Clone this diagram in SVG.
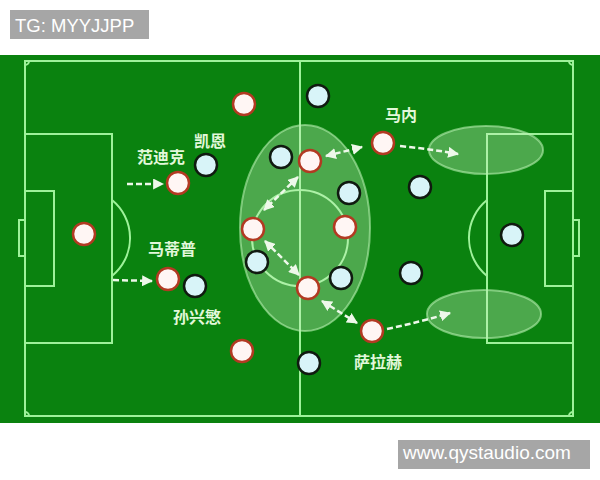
<svg xmlns="http://www.w3.org/2000/svg" width="600" height="480" viewBox="0 0 600 480">
<defs>
<style>
.ln{fill:none;stroke:#9ef29a;stroke-width:2}
.zone{fill:#c8f0c0;fill-opacity:0.35;stroke:#b8f0b0;stroke-opacity:0.6;stroke-width:2}
.red{fill:#fff6f4;stroke:#b23a22;stroke-width:2.5}
.blue{fill:#d8f4f8;stroke:#101a10;stroke-width:2.5}
.lbl{font-family:"Noto Sans CJK SC","Noto Sans CJK JP",sans-serif;font-size:16px;font-weight:bold;fill:#e2f8da}
.arr{fill:none;stroke:#eef8ea;stroke-width:2.5;stroke-dasharray:6 3}
.wm{font-family:"Liberation Sans",Arial,sans-serif;fill:#ffffff}
</style>
<marker id="ah" viewBox="0 0 10 10" refX="9" refY="5" markerWidth="11" markerHeight="11" markerUnits="userSpaceOnUse" orient="auto-start-reverse">
<path d="M0,0 L10,5 L0,10 Z" fill="#eef8ea"/>
</marker>
</defs>
<rect width="600" height="480" fill="#ffffff"/>
<g id="watermark-top">
<rect x="10" y="10" width="139" height="29" fill="#a6a6a6"/>
<text class="wm" x="15" y="32" font-size="18.5">TG: MYYJJPP</text>
</g>
<g id="pitch">
<rect x="0" y="55" width="600" height="368" fill="#0a820f"/>
<rect class="ln" x="25" y="61" width="548" height="355"/>
<line class="ln" x1="300" y1="61" x2="300" y2="416"/>
<circle class="ln" cx="300" cy="238" r="48" stroke-width="1.5"/>
<rect class="ln" x="25" y="134" width="87" height="209"/>
<rect class="ln" x="25" y="191" width="29" height="95"/>
<rect class="ln" x="19" y="220" width="6" height="36"/>
<path class="ln" d="M112,200 A49,49 0 0 1 112,276" stroke-width="1.5"/>
<rect class="ln" x="487" y="134" width="86" height="209"/>
<rect class="ln" x="545" y="191" width="28" height="95"/>
<rect class="ln" x="573" y="220" width="6" height="36"/>
<path class="ln" d="M487,200 A49,49 0 0 0 487,276" stroke-width="1.5"/>
<path class="ln" d="M25,65 A4,4 0 0 0 29,61 M569,61 A4,4 0 0 0 573,65 M25,412 A4,4 0 0 1 29,416 M569,416 A4,4 0 0 1 573,412" stroke-width="1.5"/>
</g>
<g id="zones">
<ellipse class="zone" cx="305" cy="228" rx="65" ry="103"/>
<ellipse class="zone" cx="486" cy="150" rx="57" ry="24"/>
<ellipse class="zone" cx="484" cy="314" rx="57" ry="24"/>
</g>
<g id="connectors">
<path class="arr" d="M127,184 L163,184" marker-end="url(#ah)"/>
<path class="arr" d="M113,280 L152,281" marker-end="url(#ah)"/>
<path class="arr" d="M400,146 Q430,149 458,154" marker-end="url(#ah)"/>
<path class="arr" d="M326,156 L362,147" marker-start="url(#ah)" marker-end="url(#ah)"/>
<path class="arr" d="M322,301 L357,323" marker-start="url(#ah)" marker-end="url(#ah)"/>
<path class="arr" d="M387,329 Q420,322 450,313" marker-end="url(#ah)"/>
<path class="arr" d="M298,177 L264,210" marker-start="url(#ah)" marker-end="url(#ah)"/>
<path class="arr" d="M265,241 L299,275" marker-start="url(#ah)" marker-end="url(#ah)"/>
</g>
<g id="red-team">
<circle id="r1" class="red" cx="244" cy="104" r="11"/>
<circle id="r2" class="red" cx="178" cy="183" r="11"/>
<circle id="r3" class="red" cx="84" cy="234" r="11"/>
<circle id="r4" class="red" cx="168" cy="279" r="11"/>
<circle id="r5" class="red" cx="242" cy="351" r="11"/>
<circle id="r6" class="red" cx="310" cy="161" r="11"/>
<circle id="r7" class="red" cx="253" cy="229" r="11"/>
<circle id="r8" class="red" cx="345" cy="227" r="11"/>
<circle id="r9" class="red" cx="308" cy="288" r="11"/>
<circle id="r10" class="red" cx="383" cy="143" r="11"/>
<circle id="r11" class="red" cx="372" cy="331" r="11"/>
</g>
<g id="blue-team">
<circle id="b1" class="blue" cx="206" cy="165" r="11"/>
<circle id="b2" class="blue" cx="195" cy="286" r="11"/>
<circle id="b3" class="blue" cx="281" cy="157" r="11"/>
<circle id="b4" class="blue" cx="318" cy="96" r="11"/>
<circle id="b5" class="blue" cx="349" cy="193" r="11"/>
<circle id="b6" class="blue" cx="420" cy="187" r="11"/>
<circle id="b7" class="blue" cx="257" cy="262" r="11"/>
<circle id="b8" class="blue" cx="341" cy="278" r="11"/>
<circle id="b9" class="blue" cx="411" cy="273" r="11"/>
<circle id="b10" class="blue" cx="512" cy="235" r="11"/>
<circle id="b11" class="blue" cx="309" cy="363" r="11"/>
</g>
<g id="labels">
<text class="lbl" x="161" y="163" text-anchor="middle">范迪克</text>
<text class="lbl" x="210" y="147" text-anchor="middle">凯恩</text>
<text class="lbl" x="172" y="255" text-anchor="middle">马蒂普</text>
<text class="lbl" x="197" y="323" text-anchor="middle">孙兴慜</text>
<text class="lbl" x="401" y="121" text-anchor="middle">马内</text>
<text class="lbl" x="378" y="368" text-anchor="middle">萨拉赫</text>
</g>
<g id="watermark-bottom">
<rect x="398" y="440" width="192" height="29" fill="#a6a6a6"/>
<text class="wm" x="403" y="459" font-size="19">www.qystaudio.com</text>
</g>
</svg>
